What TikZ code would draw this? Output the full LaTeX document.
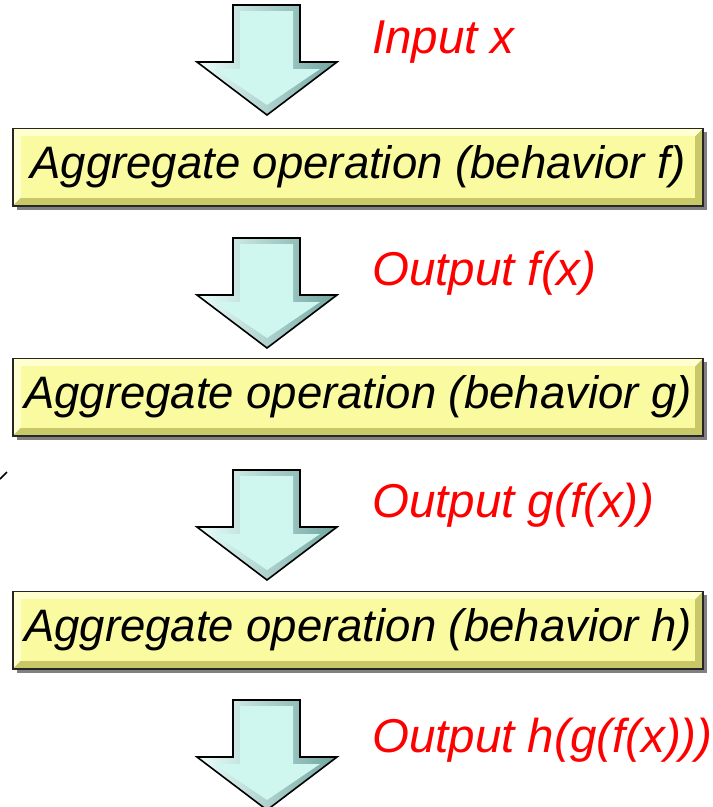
\documentclass[tikz,border=0pt]{standalone}
\usepackage{fontspec}
\setmainfont{Liberation Sans}
\usetikzlibrary{backgrounds}
\definecolor{boxlight}{RGB}{255,255,208}
\definecolor{boxface}{RGB}{250,250,160}
\definecolor{boxdark}{RGB}{200,200,105}
\definecolor{arrowface}{RGB}{208,246,240}
\definecolor{arrowlight}{RGB}{236,255,252}
\definecolor{arrowdark}{RGB}{112,165,160}
\begin{document}
\begin{tikzpicture}[x=1pt,y=1pt,
    opbox/.style={minimum width=690pt, minimum height=77pt, inner sep=0pt,
      font=\fontsize{45.5}{45.5}\selectfont\itshape},
    datalabel/.style={text=red, anchor=base west, inner sep=0pt,
      font=\fontsize{47.5}{47.5}\selectfont\itshape}]
  \useasboundingbox (0,-807) rectangle (713,0);

  % block arrows between the stages
  \foreach \t in {-5,-238,-470,-700} {
    \shade[left color=arrowlight, right color=arrowdark]
      (233,\t) -- (300,\t) -- (300,\t-57) -- (337,\t-57) -- (267,\t-110)
      -- (197,\t-57) -- (233,\t-57) -- cycle;
    \fill[arrowface]
      (240,\t-6) -- (293,\t-6) -- (293,\t-64) -- (320,\t-64) -- (267,\t-100)
      -- (214,\t-64) -- (240,\t-64) -- cycle;
    \draw[line width=1.6pt, line join=miter]
      (233,\t) -- (300,\t) -- (300,\t-57) -- (337,\t-57) -- (267,\t-110)
      -- (197,\t-57) -- (233,\t-57) -- cycle;
  }

  % the three stages
  \node[opbox] (opf) at (358,-167) {Aggregate operation (behavior f)};
  \node[opbox] (opg) at (358,-397) {Aggregate operation (behavior g)};
  \node[opbox] (oph) at (358,-630) {Aggregate operation (behavior h)};

  % bevelled frames behind the stage texts
  \begin{scope}[on background layer]
    \foreach \n in {opf,opg,oph} {
      \fill[black!50] ([shift={(4pt,-4pt)}]\n.south west)
        rectangle ([shift={(4pt,-4pt)}]\n.north east);
      \fill[boxlight] (\n.south west) rectangle (\n.north east);
      \fill[boxdark] (\n.north east) -- (\n.south east) -- (\n.south west)
        -- ([shift={(8pt,8pt)}]\n.south west) -- ([shift={(-8pt,8pt)}]\n.south east)
        -- ([shift={(-8pt,-8pt)}]\n.north east) -- cycle;
      \fill[boxface] ([shift={(8pt,-8pt)}]\n.north west)
        rectangle ([shift={(-8pt,8pt)}]\n.south east);
      \draw[line width=1.6pt, black!85] (\n.south west) rectangle (\n.north east);
    }
  \end{scope}

  % data passed along
  \node[datalabel] (inx) at (372,-53) {Input x};
  \node[datalabel] (outf) at (372,-285) {Output f(x)};
  \node[datalabel] (outg) at (372,-517) {Output g(f(x))};
  \node[datalabel] (outh) at (372,-752) {Output h(g(f(x)))};

  % stray stroke at the left margin
  \draw[line width=1.6pt] (0,-479) -- (7,-472);
\end{tikzpicture}
\end{document}
